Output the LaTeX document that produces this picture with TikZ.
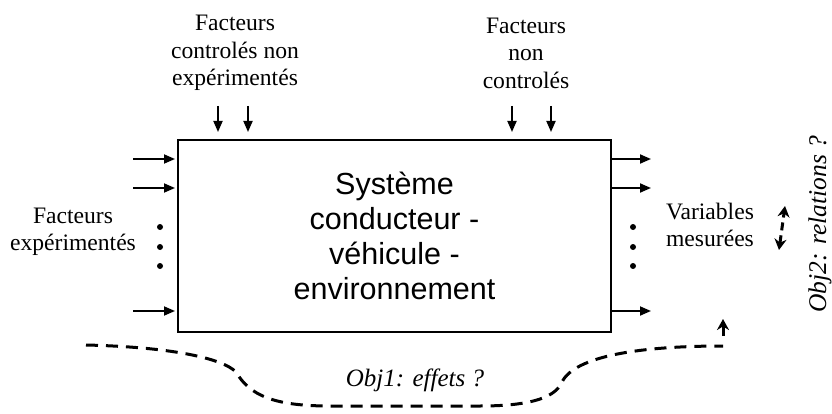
\documentclass[tikz,border=0pt]{standalone}
\usepackage{fontspec}
\setmainfont{Liberation Serif}
\setsansfont{Liberation Sans}
\usepackage{tikz}
\usetikzlibrary{arrows.meta, positioning, calc}

\tikzset{
  arr/.style={line width=1.8pt, -{Triangle[length=11pt,width=9pt]}},
  objline/.style={line width=3pt, dash pattern=on 12pt off 8pt},
  lbl/.style={align=center, font=\fontsize{23.6}{27.5}\selectfont},
}

\begin{document}
\begin{tikzpicture}[x=1pt, y=-1pt]
  \useasboundingbox (0,0) rectangle (832,414);
  \node[draw, line width=2pt, minimum width=433pt, minimum height=192pt,
        align=center, font=\sffamily\fontsize{30.5}{35}\selectfont]
        (sys) at (394.5,236) {Système\\ conducteur -\\ véhicule -\\ environnement};
  \node[lbl] (ctrl) at (235,53) {Facteurs\\ controlés non\\ expérimentés};
  \node[lbl] (nonctrl) at (526,53) {Facteurs\\ non\\ controlés};
  \node[lbl] (expe) at (73,232) {Facteurs\\ expérimentés};
  \node[lbl] (vars) at (710,225) {Variables\\ mesurées};
  \node[font=\itshape\fontsize{25}{30}\selectfont] (obj1) at (415,380) {Obj1: effets ?};
  \node[rotate=90, font=\itshape\fontsize{25.5}{30}\selectfont] (obj2) at (820,224) {Obj2: relations ?};

  \foreach \x in {218,248,512,551} {
    \coordinate (top\x) at (\x,106);
    \draw[arr, shorten >=7pt] (top\x) -- (top\x |- sys.north);
  }
  \foreach \y [count=\i] in {159,188,311} {
    \coordinate (in\i) at (133,\y);
    \coordinate (out\i) at (651,\y);
    \draw[arr, shorten >=2pt] (in\i) -- (in\i -| sys.west);
    \draw[arr] (out\i -| sys.east) -- (out\i);
  }
  \foreach \y in {227,247,266} {
    \fill (160,\y) circle (3pt);
    \fill (633,\y) circle (3pt);
  }

  \coordinate (obj_l) at (86,345);
  \coordinate (obj_r) at (723,346);
  \draw[objline] (obj_l) .. controls (170,347) and (222,358) .. (236,372)
    .. controls (250,396) and (275,406) .. (330,406) -- (480,406)
    .. controls (535,406) and (556,396) .. (562,382)
    .. controls (575,356) and (640,346) .. (obj_r);
  \coordinate (up_s) at (723,336);
  \coordinate (up_t) at (723,319);
  \draw[line width=3pt, -{Stealth[length=11pt,width=12pt]}] (up_s) -- (up_t);

  \coordinate (rel_a) at (779,250);
  \coordinate (rel_b) at (785,206);
  \draw[line width=3pt, dash pattern=on 8pt off 5pt,
        {Stealth[length=11pt,width=12pt]}-{Stealth[length=11pt,width=12pt]}] (rel_a) -- (rel_b);
\end{tikzpicture}
\end{document}
